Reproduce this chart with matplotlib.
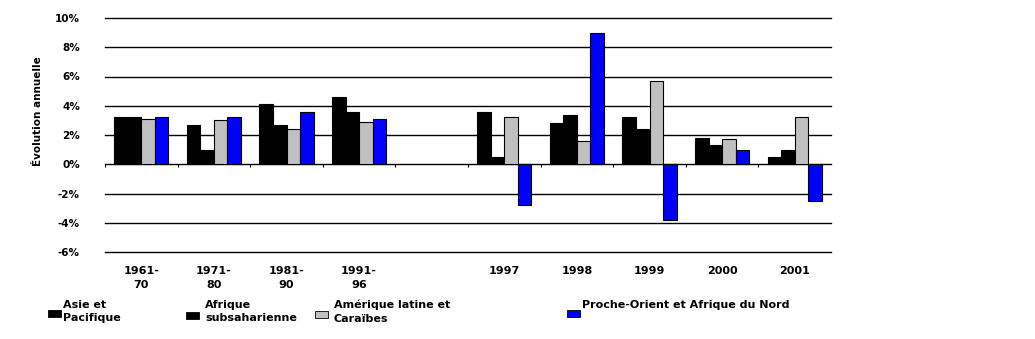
import matplotlib.pyplot as plt
from matplotlib.patches import Rectangle
import numpy as np

# categories (empty slot between 1991-96 and 1997)
categories = ["1961-\n70", "1971-\n80", "1981-\n90", "1991-\n96", "",
              "1997", "1998", "1999", "2000", "2001"]
series_names = ["Asie et\nPacifique", "Afrique\nsubsaharienne",
                "Amérique latine et\nCaraïbes", "Proche-Orient et Afrique du Nord"]
colors = ["#000000", "#000000", "#c0c0c0", "#0000ff"]

asie = [3.2, 2.7, 4.1, 4.6, np.nan, 3.6, 2.8, 3.2, 1.8, 0.5]
afrique = [3.2, 1.0, 2.7, 3.6, np.nan, 0.5, 3.4, 2.4, 1.3, 1.0]
amerique = [3.1, 3.0, 2.4, 2.9, np.nan, 3.2, 1.6, 5.7, 1.7, 3.2]
proche = [3.2, 3.2, 3.6, 3.1, np.nan, -2.8, 9.0, -3.8, 1.0, -2.5]
values = [asie, afrique, amerique, proche]

plt.rcParams['font.family'] = 'DejaVu Sans'
plt.rcParams['font.weight'] = 'bold'

fig = plt.figure(figsize=(10.35, 3.39), dpi=100)
W, H = 1035, 339
ax = fig.add_axes([105 / W, (H - 252) / H, (831 - 105) / W, (252 - 18) / H])

x = np.arange(len(categories))
w = 0.186
for i, (vals, c) in enumerate(zip(values, colors)):
    ax.bar(x + (i - 1.5) * w, vals, width=w, color=c, edgecolor='black',
           linewidth=0.8, zorder=3)

ax.set_xlim(-0.5, len(categories) - 0.5)
ax.set_ylim(-6, 10)
ax.set_yticks(range(-6, 11, 2))
ax.set_yticklabels([f"{v}%" for v in range(-6, 11, 2)], fontsize=7.5,
                   fontweight='bold')
ax.tick_params(axis='y', length=0, pad=18)
ax.set_xticks(x)
ax.set_xticklabels(categories, fontsize=8, fontweight='bold', linespacing=1.55)
ax.tick_params(axis='x', length=0, pad=10)
ax.grid(axis='y', color='black', linewidth=1, zorder=1)
for gl in ax.get_ygridlines():
    gl.set_clip_on(False)
ax.set_axisbelow(True)
for s in ax.spines.values():
    s.set_visible(False)

# category boundary ticks on the zero line
bounds = np.arange(len(categories) + 1) - 0.5
ax.vlines(bounds, -0.2, 0, color='black', linewidth=0.8, zorder=2)

fig.text(38 / W, (H - 111) / H, "Évolution annuelle", rotation=90,
         ha='center', va='center', fontsize=7.5, fontweight='bold')

# legend
marker_x = [48, 186, 315, 567]
marker_y = [310, 312, 311, 310]
text_x = [63, 205, 334, 582]
for mx, my, tx, name, c in zip(marker_x, marker_y, text_x, series_names, colors):
    fig.patches.append(Rectangle((mx / W, (H - my - 7) / H), 13 / W, 7 / H,
                                 transform=fig.transFigure, facecolor=c,
                                 edgecolor='black', linewidth=0.6))
    fig.text(tx / W, (H - 300) / H, name, ha='left', va='top', fontsize=8,
             fontweight='bold', linespacing=1.4)

fig.savefig("out.png", dpi=100)
